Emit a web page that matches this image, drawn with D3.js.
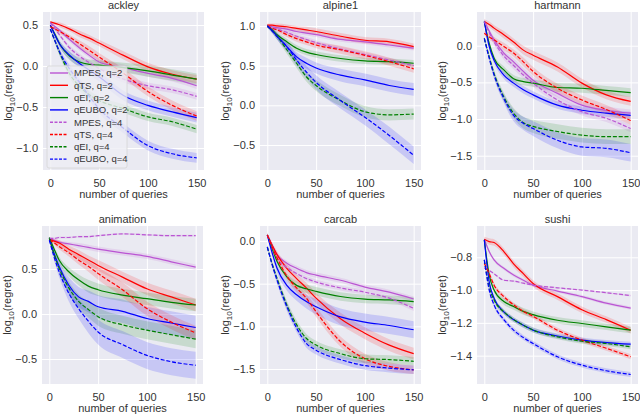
<!DOCTYPE html>
<html>
<head>
<meta charset="utf-8">
<script src="https://cdn.jsdelivr.net/npm/d3@7"></script>
<style>
    body { margin: 0; background: #fff; }
    svg { display: block; font-family: 'Liberation Sans', Arial, sans-serif; }
</style>
</head>
<body>
<div class="chart-container"></div>
<script>
// Data (log10 regret vs. number of queries).
const queries = [0, 5, 10, 20, 30, 40, 50, 75, 100, 125, 150];
const methods = ['MPES, q=2', 'qTS, q=2', 'qEI, q=2', 'qEUBO, q=2',
                 'MPES, q=4', 'qTS, q=4', 'qEI, q=4', 'qEUBO, q=4'];
const problems = ['ackley', 'alpine1', 'hartmann', 'animation', 'carcab', 'sushi'];
const xTicks = [0, 50, 100, 150];

const ackleyTicks = [-1.0, -0.5, 0.0, 0.5];
const ackleyMean = [
    [0.53, 0.48, 0.43, 0.32, 0.22, 0.13, 0.05, -0.02, -0.09, -0.15, -0.24],
    [0.54, 0.52, 0.50, 0.45, 0.39, 0.34, 0.28, 0.13, -0.01, -0.10, -0.16],
    [0.50, 0.38, 0.26, 0.12, 0.05, 0.02, 0.01, -0.02, -0.06, -0.11, -0.16],
    [0.50, 0.37, 0.26, 0.13, 0.03, -0.05, -0.13, -0.36, -0.48, -0.56, -0.63],
    [0.53, 0.45, 0.37, 0.22, 0.12, 0.04, -0.03, -0.16, -0.24, -0.29, -0.37],
    [0.48, 0.45, 0.42, 0.35, 0.27, 0.19, 0.11, -0.09, -0.31, -0.48, -0.61],
    [0.45, 0.30, 0.15, -0.10, -0.25, -0.35, -0.42, -0.52, -0.62, -0.68, -0.77],
    [0.45, 0.30, 0.16, -0.04, -0.20, -0.37, -0.52, -0.76, -0.97, -1.07, -1.12]
];
const ackleySpread = [
    [0.01, 0.02, 0.02, 0.03, 0.03, 0.03, 0.04, 0.04, 0.04, 0.04, 0.04],
    [0.01, 0.02, 0.03, 0.03, 0.04, 0.04, 0.04, 0.05, 0.05, 0.05, 0.05],
    [0.01, 0.03, 0.04, 0.05, 0.05, 0.06, 0.06, 0.06, 0.07, 0.07, 0.07],
    [0.01, 0.03, 0.04, 0.05, 0.05, 0.05, 0.06, 0.06, 0.06, 0.06, 0.06],
    [0.01, 0.02, 0.02, 0.03, 0.03, 0.03, 0.04, 0.04, 0.04, 0.04, 0.04],
    [0.01, 0.02, 0.03, 0.03, 0.04, 0.05, 0.05, 0.06, 0.06, 0.06, 0.06],
    [0.01, 0.03, 0.04, 0.05, 0.05, 0.05, 0.05, 0.05, 0.05, 0.05, 0.05],
    [0.01, 0.03, 0.04, 0.05, 0.05, 0.05, 0.06, 0.06, 0.06, 0.06, 0.06]
];

const alpineTicks = [-0.5, 0.0, 0.5, 1.0];
const alpineMean = [
    [1.00, 0.99, 0.98, 0.96, 0.93, 0.91, 0.89, 0.83, 0.80, 0.76, 0.72],
    [1.01, 1.01, 1.00, 0.99, 0.97, 0.95, 0.93, 0.87, 0.82, 0.80, 0.74],
    [1.00, 0.95, 0.89, 0.80, 0.72, 0.67, 0.64, 0.59, 0.56, 0.55, 0.53],
    [1.00, 0.94, 0.87, 0.74, 0.61, 0.53, 0.47, 0.38, 0.32, 0.25, 0.20],
    [1.00, 0.98, 0.96, 0.92, 0.87, 0.83, 0.79, 0.71, 0.64, 0.57, 0.50],
    [1.00, 0.97, 0.95, 0.89, 0.84, 0.80, 0.76, 0.70, 0.63, 0.55, 0.46],
    [1.00, 0.94, 0.87, 0.70, 0.53, 0.36, 0.25, 0.06, -0.08, -0.12, -0.11],
    [1.00, 0.94, 0.87, 0.74, 0.57, 0.42, 0.29, 0.06, -0.15, -0.38, -0.63]
];
const alpineSpread = [
    [0.02, 0.02, 0.02, 0.03, 0.03, 0.03, 0.03, 0.03, 0.03, 0.03, 0.03],
    [0.02, 0.02, 0.03, 0.03, 0.03, 0.04, 0.04, 0.04, 0.04, 0.04, 0.04],
    [0.02, 0.02, 0.03, 0.04, 0.04, 0.04, 0.04, 0.04, 0.04, 0.04, 0.04],
    [0.02, 0.03, 0.04, 0.05, 0.06, 0.07, 0.07, 0.08, 0.08, 0.08, 0.08],
    [0.02, 0.02, 0.02, 0.03, 0.03, 0.03, 0.03, 0.03, 0.03, 0.03, 0.03],
    [0.02, 0.02, 0.03, 0.03, 0.04, 0.04, 0.04, 0.05, 0.05, 0.05, 0.05],
    [0.02, 0.03, 0.04, 0.05, 0.06, 0.06, 0.07, 0.07, 0.07, 0.07, 0.07],
    [0.02, 0.03, 0.04, 0.06, 0.07, 0.08, 0.09, 0.10, 0.10, 0.11, 0.11]
];

const hartmannTicks = [-1.5, -1.0, -0.5, 0.0];
const hartmannMean = [
    [0.33, 0.20, 0.08, -0.10, -0.22, -0.35, -0.47, -0.65, -0.81, -0.88, -0.92],
    [0.33, 0.29, 0.24, 0.15, 0.05, -0.06, -0.13, -0.29, -0.51, -0.67, -0.76],
    [0.33, 0.03, -0.17, -0.33, -0.45, -0.49, -0.51, -0.57, -0.58, -0.61, -0.64],
    [0.33, -0.01, -0.20, -0.40, -0.51, -0.60, -0.67, -0.81, -0.88, -0.92, -0.95],
    [0.33, 0.18, 0.05, -0.14, -0.27, -0.40, -0.51, -0.74, -0.90, -0.99, -1.13],
    [0.17, 0.12, 0.08, -0.01, -0.10, -0.22, -0.35, -0.58, -0.74, -0.87, -1.02],
    [0.10, -0.15, -0.38, -0.70, -0.92, -1.05, -1.10, -1.17, -1.22, -1.24, -1.24],
    [0.10, -0.17, -0.40, -0.72, -0.95, -1.06, -1.13, -1.29, -1.38, -1.40, -1.46]
];
const hartmannSpread = [
    [0.03, 0.03, 0.04, 0.04, 0.05, 0.05, 0.05, 0.05, 0.05, 0.05, 0.05],
    [0.03, 0.04, 0.04, 0.05, 0.05, 0.06, 0.06, 0.06, 0.06, 0.06, 0.06],
    [0.03, 0.04, 0.04, 0.05, 0.05, 0.05, 0.05, 0.06, 0.06, 0.06, 0.06],
    [0.03, 0.04, 0.04, 0.05, 0.05, 0.05, 0.05, 0.05, 0.05, 0.05, 0.05],
    [0.03, 0.03, 0.04, 0.05, 0.05, 0.05, 0.05, 0.05, 0.05, 0.05, 0.05],
    [0.03, 0.04, 0.04, 0.05, 0.05, 0.06, 0.06, 0.06, 0.06, 0.06, 0.06],
    [0.03, 0.04, 0.05, 0.06, 0.07, 0.08, 0.09, 0.10, 0.10, 0.10, 0.10],
    [0.03, 0.04, 0.05, 0.06, 0.08, 0.09, 0.10, 0.11, 0.12, 0.12, 0.12]
];

const animationTicks = [-0.5, 0.0, 0.5];
const animationMean = [
    [0.84, 0.82, 0.80, 0.78, 0.76, 0.74, 0.72, 0.68, 0.64, 0.58, 0.52],
    [0.83, 0.81, 0.79, 0.72, 0.66, 0.60, 0.54, 0.41, 0.28, 0.19, 0.10],
    [0.85, 0.72, 0.60, 0.47, 0.38, 0.31, 0.27, 0.21, 0.17, 0.13, 0.10],
    [0.84, 0.67, 0.53, 0.32, 0.19, 0.14, 0.08, 0.03, -0.05, -0.10, -0.15],
    [0.84, 0.84, 0.85, 0.85, 0.86, 0.86, 0.87, 0.89, 0.88, 0.87, 0.87],
    [0.82, 0.79, 0.75, 0.68, 0.60, 0.53, 0.45, 0.27, 0.06, -0.09, -0.21],
    [0.84, 0.66, 0.51, 0.29, 0.14, 0.05, -0.03, -0.12, -0.18, -0.23, -0.28],
    [0.82, 0.63, 0.47, 0.23, 0.06, -0.08, -0.20, -0.34, -0.46, -0.53, -0.57]
];
const animationSpread = [
    [0.01, 0.02, 0.02, 0.02, 0.03, 0.03, 0.03, 0.03, 0.03, 0.03, 0.03],
    [0.01, 0.02, 0.03, 0.04, 0.05, 0.05, 0.06, 0.06, 0.07, 0.07, 0.07],
    [0.01, 0.03, 0.04, 0.05, 0.06, 0.07, 0.07, 0.07, 0.07, 0.07, 0.07],
    [0.01, 0.04, 0.06, 0.09, 0.11, 0.12, 0.13, 0.13, 0.13, 0.13, 0.13],
    [0.01, 0.01, 0.01, 0.01, 0.01, 0.01, 0.01, 0.01, 0.01, 0.01, 0.01],
    [0.01, 0.02, 0.03, 0.04, 0.05, 0.06, 0.07, 0.08, 0.08, 0.08, 0.08],
    [0.01, 0.03, 0.05, 0.07, 0.08, 0.09, 0.10, 0.10, 0.10, 0.10, 0.10],
    [0.01, 0.04, 0.06, 0.09, 0.11, 0.13, 0.14, 0.15, 0.15, 0.15, 0.15]
];

const carcabTicks = [-1.5, -1.0, -0.5, 0.0];
const carcabMean = [
    [0.07, -0.05, -0.16, -0.26, -0.32, -0.37, -0.40, -0.46, -0.54, -0.60, -0.68],
    [0.07, -0.05, -0.16, -0.32, -0.44, -0.55, -0.67, -0.91, -1.08, -1.22, -1.32],
    [0.07, -0.09, -0.24, -0.42, -0.52, -0.56, -0.59, -0.65, -0.68, -0.69, -0.71],
    [0.07, -0.14, -0.32, -0.52, -0.63, -0.71, -0.77, -0.89, -0.95, -0.99, -1.04],
    [0.07, -0.07, -0.20, -0.31, -0.38, -0.44, -0.48, -0.55, -0.60, -0.67, -0.79],
    [0.07, -0.07, -0.20, -0.41, -0.55, -0.67, -0.83, -1.18, -1.38, -1.47, -1.51],
    [-0.07, -0.27, -0.44, -0.75, -0.98, -1.14, -1.22, -1.32, -1.38, -1.39, -1.41],
    [-0.07, -0.28, -0.46, -0.77, -1.02, -1.20, -1.28, -1.39, -1.46, -1.49, -1.51]
];
const carcabSpread = [
    [0.02, 0.02, 0.02, 0.03, 0.03, 0.03, 0.03, 0.03, 0.03, 0.03, 0.03],
    [0.02, 0.03, 0.04, 0.05, 0.05, 0.06, 0.06, 0.07, 0.07, 0.07, 0.07],
    [0.02, 0.03, 0.03, 0.04, 0.05, 0.05, 0.05, 0.05, 0.05, 0.05, 0.05],
    [0.02, 0.03, 0.05, 0.06, 0.07, 0.08, 0.09, 0.10, 0.10, 0.10, 0.10],
    [0.02, 0.02, 0.02, 0.03, 0.03, 0.03, 0.03, 0.03, 0.03, 0.03, 0.03],
    [0.02, 0.03, 0.04, 0.04, 0.05, 0.05, 0.06, 0.06, 0.06, 0.05, 0.05],
    [0.02, 0.03, 0.04, 0.05, 0.05, 0.05, 0.05, 0.05, 0.05, 0.05, 0.05],
    [0.02, 0.03, 0.04, 0.05, 0.05, 0.05, 0.05, 0.05, 0.05, 0.05, 0.05]
];

const sushiTicks = [-1.4, -1.2, -1.0, -0.8];
const sushiMean = [
    [-0.690, -0.765, -0.816, -0.867, -0.908, -0.940, -0.970, -1.006, -1.040, -1.080, -1.110],
    [-0.690, -0.704, -0.710, -0.765, -0.840, -0.900, -0.960, -1.040, -1.120, -1.180, -1.245],
    [-0.694, -0.908, -1.000, -1.070, -1.100, -1.130, -1.150, -1.184, -1.204, -1.224, -1.244],
    [-0.694, -0.950, -1.050, -1.133, -1.180, -1.215, -1.244, -1.280, -1.305, -1.320, -1.330],
    [-0.867, -0.880, -0.900, -0.940, -0.945, -0.958, -0.970, -0.986, -1.000, -1.016, -1.034],
    [-0.837, -0.900, -0.970, -1.040, -1.090, -1.130, -1.160, -1.245, -1.305, -1.355, -1.407],
    [-0.816, -0.980, -1.060, -1.133, -1.180, -1.215, -1.244, -1.285, -1.312, -1.326, -1.346],
    [-0.816, -1.000, -1.090, -1.180, -1.244, -1.290, -1.326, -1.407, -1.458, -1.492, -1.515]
];
const sushiSpread = [
    [0.010, 0.010, 0.010, 0.010, 0.010, 0.010, 0.010, 0.010, 0.010, 0.010, 0.010],
    [0.015, 0.020, 0.020, 0.020, 0.020, 0.020, 0.020, 0.020, 0.020, 0.020, 0.020],
    [0.010, 0.015, 0.015, 0.020, 0.020, 0.020, 0.020, 0.020, 0.020, 0.020, 0.020],
    [0.010, 0.015, 0.015, 0.015, 0.015, 0.015, 0.015, 0.015, 0.015, 0.015, 0.015],
    [0.005, 0.005, 0.005, 0.005, 0.005, 0.005, 0.005, 0.005, 0.005, 0.005, 0.005],
    [0.010, 0.015, 0.015, 0.015, 0.015, 0.015, 0.015, 0.015, 0.015, 0.015, 0.015],
    [0.010, 0.010, 0.015, 0.015, 0.015, 0.015, 0.015, 0.015, 0.015, 0.015, 0.015],
    [0.010, 0.015, 0.015, 0.015, 0.015, 0.015, 0.015, 0.015, 0.015, 0.015, 0.015]
];

const svg = d3
    .select('.chart-container')
    .append('svg')
    .attr('width', 640)
    .attr('height', 415);

const config = {
    width: 161,
    height: 158,
    xDomain: [-7.5, 157.5],
    colors: ['#ba55d3', '#ff0000', '#008000', '#0000ff', '#ba55d3', '#ff0000', '#008000', '#0000ff'],
    dashed: [false, false, false, false, true, true, true, true],
    fontSize: 11,
    textColor: '#333'
};

const panels = [
    {mean: ackleyMean, spread: ackleySpread, ticks: ackleyTicks, yDomain: [-1.268, 0.659], left: 43, top: 12},
    {mean: alpineMean, spread: alpineSpread, ticks: alpineTicks, yDomain: [-0.815, 1.176], left: 260, top: 12},
    {mean: hartmannMean, spread: hartmannSpread, ticks: hartmannTicks, yDomain: [-1.695, 0.46], left: 477, top: 12},
    {mean: animationMean, spread: animationSpread, ticks: animationTicks, yDomain: [-0.778, 0.978], left: 42, top: 226},
    {mean: carcabMean, spread: carcabSpread, ticks: carcabTicks, yDomain: [-1.676, 0.176], left: 260, top: 226},
    {mean: sushiMean, spread: sushiSpread, ticks: sushiTicks, yDomain: [-1.573, -0.609], left: 477, top: 226}
];

panels.forEach((p, i) => drawPanel(p, problems[i], i));

function drawPanel(p, name, idx) {
    const w = config.width, h = config.height;
    const g = svg.append('g').attr('transform', `translate(${p.left}, ${p.top})`);

    const xScale = d3.scaleLinear().domain(config.xDomain).range([0, w]);
    const yScale = d3.scaleLinear().domain(p.yDomain).range([h, 0]);

    g.append('rect')
        .attr('width', w)
        .attr('height', h)
        .attr('fill', '#eaeaf2');

    const fmt = d => d3.format('.1f')(d).replace('-', '\u2212');

    const axisX = d3.axisBottom(xScale).tickValues(xTicks).tickSize(-h).tickPadding(9);
    const axisY = d3.axisLeft(yScale).tickValues(p.ticks).tickSize(-w).tickPadding(5).tickFormat(fmt);

    const gx = g.append('g').attr('transform', `translate(0, ${h})`).call(axisX);
    const gy = g.append('g').call(axisY);
    [gx, gy].forEach(a => {
        a.select('.domain').remove();
        a.selectAll('line').attr('stroke', '#fff').attr('stroke-width', 1);
        a.selectAll('text')
            .attr('fill', config.textColor)
            .style('font-size', `${config.fontSize}px`)
            .style('font-family', "'Liberation Sans', Arial, sans-serif");
    });

    const clipId = `clip-${idx}`;
    g.append('clipPath').attr('id', clipId)
        .append('rect').attr('width', w).attr('height', h);
    const plot = g.append('g').attr('clip-path', `url(#${clipId})`);

    const area = d3.area()
        .x((d, j) => xScale(queries[j]))
        .y0(d => yScale(d[0] - d[1]))
        .y1(d => yScale(d[0] + d[1]))
        .curve(d3.curveMonotoneX);
    const line = d3.line()
        .x((d, j) => xScale(queries[j]))
        .y(d => yScale(d))
        .curve(d3.curveMonotoneX);

    p.mean.forEach((series, s) => {
        plot.append('path')
            .datum(series.map((v, j) => [v, p.spread[s][j]]))
            .attr('d', area)
            .attr('fill', config.colors[s])
            .attr('fill-opacity', 0.15);
    });
    p.mean.forEach((series, s) => {
        plot.append('path')
            .datum(series)
            .attr('d', line)
            .attr('fill', 'none')
            .attr('stroke', config.colors[s])
            .attr('stroke-width', 1.2)
            .attr('stroke-dasharray', config.dashed[s] ? '4,1.8' : null);
    });

    // Title and axis labels.
    g.append('text')
        .attr('x', w / 2)
        .attr('y', -3.5)
        .attr('text-anchor', 'middle')
        .attr('fill', config.textColor)
        .style('font-size', `${config.fontSize}px`)
        .text(name);

    g.append('text')
        .attr('x', w / 2)
        .attr('y', h + 27.5)
        .attr('text-anchor', 'middle')
        .attr('fill', config.textColor)
        .style('font-size', `${config.fontSize}px`)
        .text('number of queries');

    const yl = g.append('text')
        .attr('transform', `translate(-31, ${h / 2}) rotate(-90)`)
        .attr('text-anchor', 'middle')
        .attr('fill', config.textColor)
        .style('font-size', `${config.fontSize}px`);
    yl.append('tspan').text('log');
    yl.append('tspan').attr('dy', 3).style('font-size', '8px').text('10');
    yl.append('tspan').attr('dy', -3).text('(regret)');

    if (idx === 0) drawLegend(g);
}

function drawLegend(g) {
    const lg = g.append('g').attr('transform', 'translate(4, 54)');
    lg.append('rect')
        .attr('width', 80)
        .attr('height', 102)
        .attr('rx', 2)
        .attr('fill', '#eeeef4')
        .attr('fill-opacity', 0.8)
        .attr('stroke', '#d6d6d6')
        .attr('stroke-width', 0.8);

    methods.forEach((m, s) => {
        const yy = 7 + s * 12.3;
        lg.append('line')
            .attr('x1', 3).attr('x2', 21)
            .attr('y1', yy).attr('y2', yy)
            .attr('stroke', config.colors[s])
            .attr('stroke-width', 1.4)
            .attr('stroke-dasharray', config.dashed[s] ? '3,1.5' : null);
        lg.append('text')
            .attr('x', 27)
            .attr('y', yy + 3.3)
            .attr('fill', config.textColor)
            .style('font-size', '9.5px')
            .text(m);
    });
}
</script>
</body>
</html>
